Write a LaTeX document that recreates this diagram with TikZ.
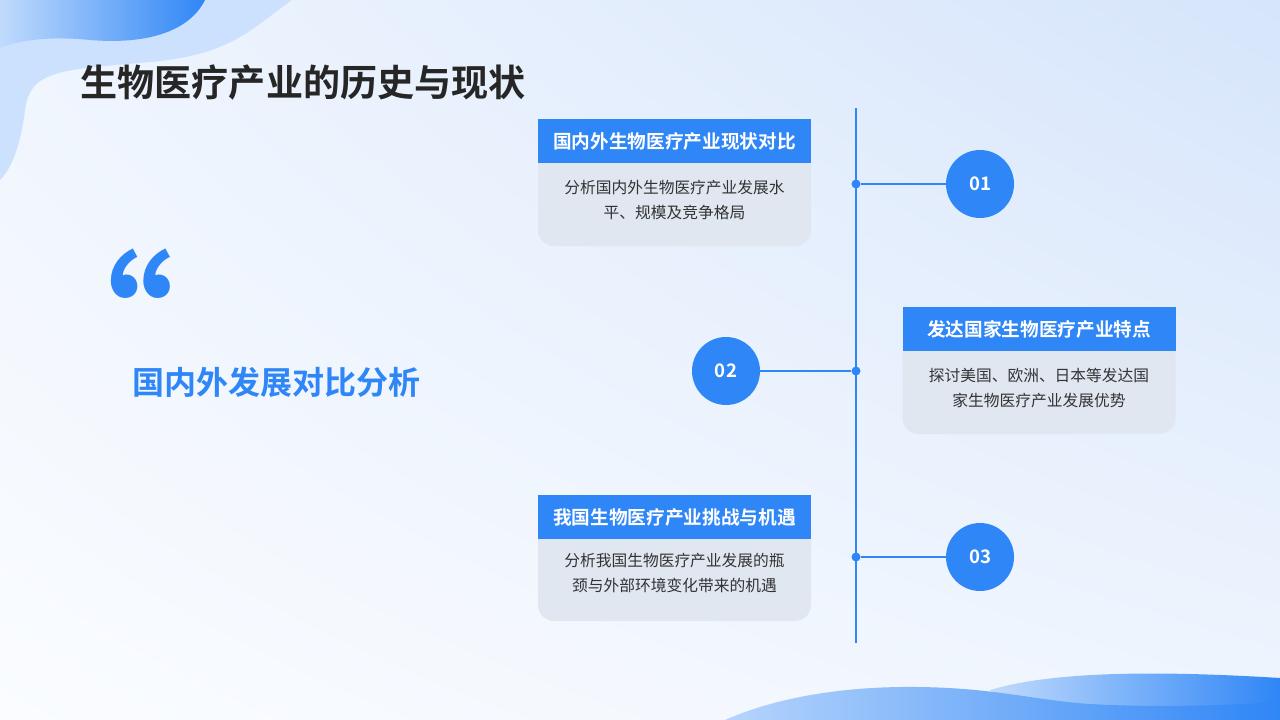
\documentclass[tikz,border=0pt]{standalone}
\usepackage{fontspec}
\usetikzlibrary{shadings}
\setmainfont{Noto Sans CJK SC}
\newfontfamily\cjkb{Noto Sans CJK SC Bold}
\begin{document}
\begin{tikzpicture}[x=0.75pt,y=-0.75pt,
  hdr/.style={fill=blue1,text=white,minimum width=273*0.75pt,minimum height=44*0.75pt,inner sep=0pt,font=\cjkb\fontsize{14}{16}\selectfont},
  bodybox/.style={fill=gray1,rounded corners=12pt,minimum width=273*0.75pt,minimum height=95*0.75pt,inner sep=0pt},
  bodytxt/.style={text=txt,align=center,font=\fontsize{11.8}{18.5}\selectfont},
  circ/.style={circle,fill=blue1,minimum size=68*0.75pt,inner sep=0pt,text=white,font=\cjkb\fontsize{14}{16}\selectfont},
  dot/.style={circle,fill=blue1,minimum size=9*0.75pt,inner sep=0pt},
  conn/.style={draw=blue1,line width=1.4pt}]
\definecolor{blue1}{HTML}{2F86F6}
\definecolor{gray1}{HTML}{E0E7F1}
\definecolor{txt}{HTML}{333333}
\definecolor{bgA}{HTML}{FAFCFF}
\definecolor{bgB}{HTML}{D6E5FB}
\useasboundingbox (0,0) rectangle (1280,720);
\shade[lower left=bgA,lower right=bgA!70!bgB,upper left=bgA!70!bgB,upper right=bgB] (0,0) rectangle (1280,720);
% top-left blobs
\fill[blue1!25] (0,0) -- (292,0) .. controls (250,30) and (230,55) .. (150,62) .. controls (60,70) and (30,70) .. (25,110) .. controls (20,150) and (10,170) .. (0,180) -- cycle;
\shade[left color=blue1!30,right color=blue1] (0,0) -- (205,0) .. controls (190,30) and (150,45) .. (90,40) .. controls (50,36) and (20,40) .. (0,48) -- cycle;
% bottom-right waves
\shade[left color=blue1!30,right color=blue1] (990,690) .. controls (1050,672) and (1150,670) .. (1280,678) -- (1280,720) -- (1010,720) -- cycle;
\shade[left color=blue1!35,right color=blue1] (725,720) .. controls (770,700) and (830,688) .. (900,687) .. controls (990,686) and (1030,700) .. (1090,704) .. controls (1160,708) and (1230,705) .. (1280,702) -- (1280,720) -- cycle;
% title
\node[anchor=west,text=black!85,font=\cjkb\fontsize{27.8}{30}\selectfont] (title) at (76,83) {生物医疗产业的历史与现状};
\node[text=blue1,font=\cjkb\fontsize{120}{120}\selectfont] (quote) at (94,318) {“};
\node[anchor=west,text=blue1,font=\cjkb\fontsize{24}{28}\selectfont] (sub) at (128,382) {国内外发展对比分析};
% timeline
\coordinate (ltop) at (856,108);
\coordinate (lbot) at (856,643);
\draw[conn] (ltop) -- (lbot);
\node[dot] (d1) at (856,184) {};
\node[dot] (d2) at (856,371) {};
\node[dot] (d3) at (856,557) {};
\node[circ] (c1) at (980,184) {01};
\node[circ] (c2) at (726,371) {02};
\node[circ] (c3) at (980,557) {03};
\draw[conn] (d1) -- (c1);
\draw[conn] (d2) -- (c2);
\draw[conn] (d3) -- (c3);
% boxes
\node[bodybox] (b1) at (674.5,198.5) {};
\node[hdr] (h1) at (674.5,141) {国内外生物医疗产业现状对比};
\node[bodytxt] (t1) at (674.5,200) {分析国内外生物医疗产业发展水\\平、规模及竞争格局};
\node[bodybox] (b2) at (1039,386.5) {};
\node[hdr] (h2) at (1039,329) {发达国家生物医疗产业特点};
\node[bodytxt] (t2) at (1039,388) {探讨美国、欧洲、日本等发达国\\家生物医疗产业发展优势};
\node[bodybox] (b3) at (674.5,573.5) {};
\node[hdr] (h3) at (674.5,517) {我国生物医疗产业挑战与机遇};
\node[bodytxt] (t3) at (674.5,573) {分析我国生物医疗产业发展的瓶\\颈与外部环境变化带来的机遇};
\end{tikzpicture}
\end{document}
